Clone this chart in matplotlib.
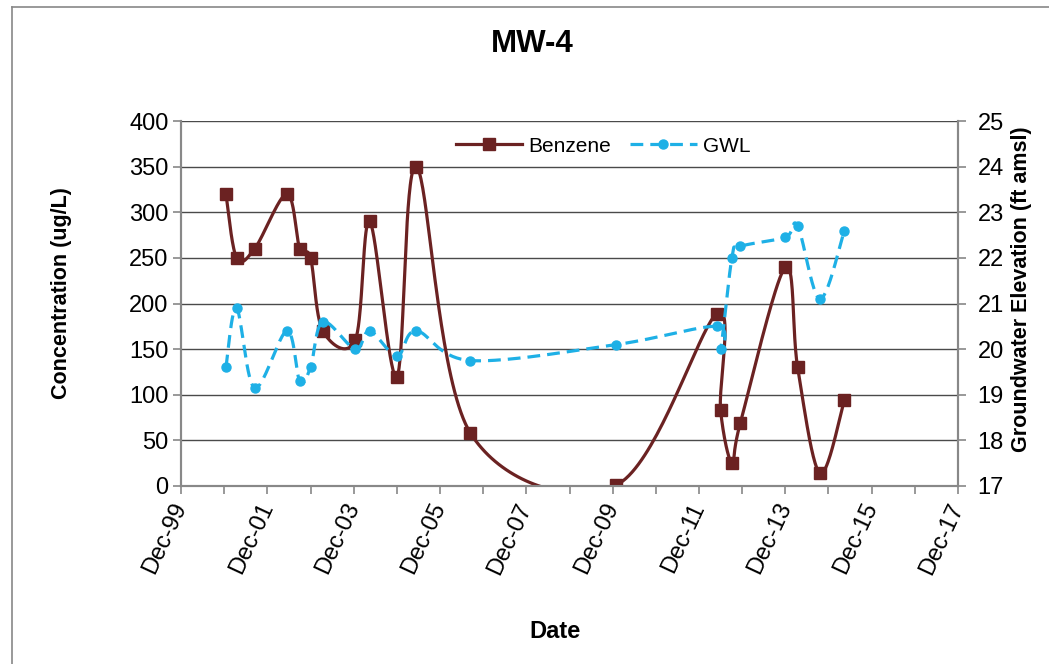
import numpy as np
import matplotlib
matplotlib.use("Agg")
import matplotlib.pyplot as plt
import matplotlib.dates as mdates
from matplotlib.lines import Line2D
from matplotlib.ticker import FixedLocator, FuncFormatter

plt.rcParams['font.family'] = ['Liberation Sans', 'DejaVu Sans']

# sample dates and readings
sample_dates = ['2000-12-15', '2001-03-15', '2001-08-15', '2002-05-15', '2002-09-01',
                '2002-12-01', '2003-03-15', '2003-12-15', '2004-04-15', '2004-12-01',
                '2005-05-15', '2006-08-15', '2010-01-01', '2012-05-01', '2012-06-01',
                '2012-09-05', '2012-11-15', '2013-12-01', '2014-03-15', '2014-09-20',
                '2015-04-15']
benzene = [320, 250, 260, 320, 260, 250, 170, 160, 290, 120, 350, 58, 1,
           189, 83, 25, 69, 240, 130, 14, 94]
gwl = [19.6, 20.9, 19.15, 20.4, 19.3, 19.6, 20.6, 20.0, 20.4, 19.85, 20.4, 19.75,
       20.1, 20.5, 20.0, 22.0, 22.25, 22.45, 22.7, 21.1, 22.6]

x_start, x_end = '1999-12-01', '2017-12-01'
conc_lim = (0, 400)
gwl_lim = (17, 25)

BENZ_COLOR = '#6b2222'
GWL_COLOR = '#1eb0e6'


def smooth(xs, ys, xlim, ylim, w=777.0, h=365.0, n=40):
    """Excel-like smoothed line: Catmull-Rom bezier done in screen-ish units."""
    u = (np.asarray(xs) - xlim[0]) / (xlim[1] - xlim[0]) * w
    v = (np.asarray(ys, float) - ylim[0]) / (ylim[1] - ylim[0]) * h
    p = np.column_stack([u, v])
    p_ext = np.vstack([p[0], p, p[-1]])
    t = np.linspace(0, 1, n)[:, None]
    out = []
    for i in range(len(p) - 1):
        p0, p1, p2, p3 = p_ext[i], p_ext[i + 1], p_ext[i + 2], p_ext[i + 3]
        c1 = p1 + (p2 - p0) / 6.0
        c2 = p2 - (p3 - p1) / 6.0
        seg = ((1 - t) ** 3) * p1 + 3 * ((1 - t) ** 2) * t * c1 \
            + 3 * (1 - t) * t ** 2 * c2 + t ** 3 * p2
        out.append(seg if i == 0 else seg[1:])
    out = np.vstack(out)
    sx = out[:, 0] / w * (xlim[1] - xlim[0]) + xlim[0]
    sy = out[:, 1] / h * (ylim[1] - ylim[0]) + ylim[0]
    return sx, sy


xnum = mdates.date2num(np.array(sample_dates, dtype='datetime64[D]'))
xlim = (mdates.date2num(np.datetime64(x_start)), mdates.date2num(np.datetime64(x_end)))

fig = plt.figure(figsize=(10.49, 6.64), dpi=100)
ax = fig.add_axes([181 / 1049, 1 - 486 / 664, (958 - 181) / 1049, (486 - 121) / 664])
ax2 = ax.twinx()

# benzene
bx, by = smooth(xnum, benzene, xlim, conc_lim)
ax.plot(bx, by, color=BENZ_COLOR, lw=2.3, zorder=3)
ax.plot(xnum, benzene, ls='none', marker='s', ms=8.5, color=BENZ_COLOR, zorder=4)

# groundwater level
gx, gy = smooth(xnum, gwl, xlim, gwl_lim)
ax2.plot(gx, gy, color=GWL_COLOR, lw=2.3, ls=(0, (4, 2.2)), zorder=3)
ax2.plot(xnum, gwl, ls='none', marker='o', ms=6.5, color=GWL_COLOR, zorder=4)

ax.set_xlim(xlim)
ax.set_ylim(conc_lim)
ax2.set_ylim(gwl_lim)
ax.set_yticks(np.arange(0, 401, 50))
ax2.set_yticks(np.arange(17, 26, 1))

years = [mdates.date2num(np.datetime64(f'{y}-12-01')) for y in range(1999, 2018)]
ax.xaxis.set_major_locator(FixedLocator(years))
ax.xaxis.set_major_formatter(FuncFormatter(
    lambda v, pos: mdates.num2date(v).strftime('%b-%y') if pos is not None and pos % 2 == 0 else ''))

ax.grid(axis='y', color='#4a4a4a', lw=1.0)
ax.set_axisbelow(True)
for a in (ax, ax2):
    a.spines['top'].set_visible(False)
    for s in ('left', 'right', 'bottom'):
        a.spines[s].set_color('#888888')
        a.spines[s].set_linewidth(1.5)
ax.tick_params(axis='both', direction='out', length=6, width=1.2, color='#888888',
               labelsize=17, labelcolor='black')
ax.tick_params(axis='y', pad=3)
ax2.tick_params(axis='y', direction='out', length=6, width=1.2, color='#888888',
                labelsize=17, pad=8)
for lab in ax.get_xticklabels():
    lab.set_rotation(65)
    lab.set_ha('right')
    lab.set_va('center')
    lab.set_rotation_mode('anchor')
ax.tick_params(axis='x', pad=7)

fig.text(532 / 1049, 1 - 44 / 664, 'MW-4', ha='center', va='center',
         fontsize=22.5, fontweight='bold')
fig.text(62 / 1049, 1 - 293 / 664, 'Concentration (ug/L)', ha='center', va='center',
         rotation=90, fontsize=15.5, fontweight='bold')
fig.text(1021 / 1049, 1 - 289 / 664, 'Groundwater Elevation (ft amsl)', ha='center',
         va='center', rotation=90, fontsize=15.5, fontweight='bold')
fig.text(555 / 1049, 1 - 632 / 664, 'Date', ha='center', va='center',
         fontsize=17, fontweight='bold')

handles = [Line2D([], [], color=BENZ_COLOR, lw=2.3, marker='s', ms=8.5),
           Line2D([], [], color=GWL_COLOR, lw=2.3, ls=(0, (4, 2.2)), marker='o', ms=6.5)]
fig.legend(handles, ['Benzene', 'GWL'], loc='center',
           bbox_to_anchor=(603 / 1049, 1 - 146 / 664), ncol=2, frameon=False,
           fontsize=15, handlelength=3.2, handletextpad=0.3, columnspacing=0.9,
           numpoints=1)

# outer chart border (only left and top show)
fig.add_artist(Line2D([12 / 1049, 12 / 1049], [0, 1 - 7 / 664], transform=fig.transFigure,
                      color='#888888', lw=1.2))
fig.add_artist(Line2D([12 / 1049, 1], [1 - 7 / 664, 1 - 7 / 664], transform=fig.transFigure,
                      color='#888888', lw=1.2))

fig.savefig('out.png', dpi=100)
